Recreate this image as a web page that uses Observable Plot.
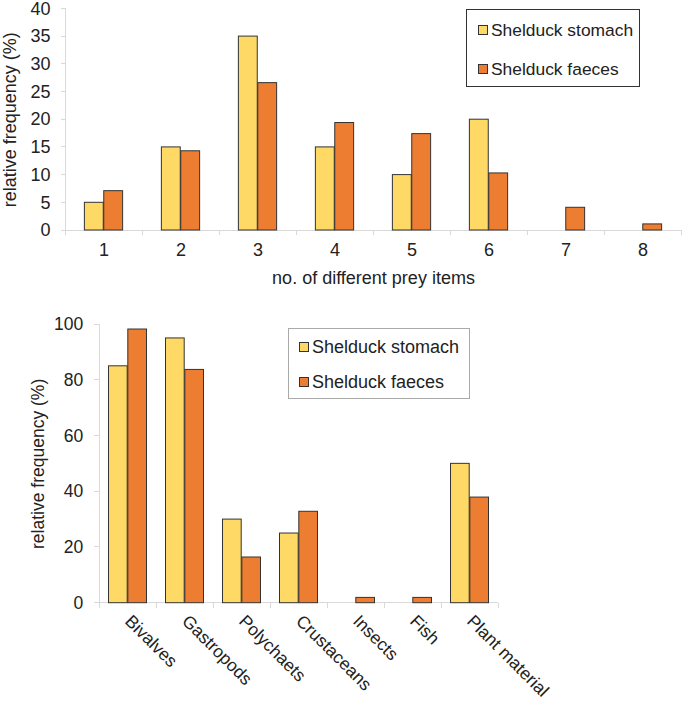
<!DOCTYPE html>
<html><head><meta charset="utf-8">
<script src="https://cdn.jsdelivr.net/npm/d3@7"></script>
<script src="https://cdn.jsdelivr.net/npm/@observablehq/plot@0.6"></script>
<style>
body{margin:0;background:#fff;font-family:"Liberation Sans",Arial,sans-serif;color:#222;}
#wrap{position:relative;width:685px;height:701px;overflow:hidden;}
.chart{position:absolute;left:0;}
.legend{position:absolute;background:#fff;box-sizing:border-box;}
.item{position:absolute;display:flex;align-items:center;white-space:nowrap;}
.sw{width:10px;height:10px;border:1px solid #333;box-sizing:border-box;margin-right:3px;flex:none;}
</style></head><body><div id="wrap"></div>
<script>
// ---- data ----
const series = ["Shelduck stomach", "Shelduck faeces"];
const seriesColors = ["#FFD966", "#ED7D31"];

const preyCounts = ["1", "2", "3", "4", "5", "6", "7", "8"];
const countStomach = [5, 15, 35, 15, 10, 20, 0, 0];
const countFaeces = [7.1, 14.3, 26.6, 19.4, 17.4, 10.3, 4.1, 1.1];
const countTicks = [0, 5, 10, 15, 20, 25, 30, 35, 40];

const preyTypes = ["Bivalves", "Gastropods", "Polychaets", "Crustaceans", "Insects", "Fish", "Plant material"];
const typeStomach = [85, 95, 30, 25, 0, 0, 50];
const typeFaeces = [98.2, 83.7, 16.4, 32.8, 1.9, 1.9, 37.9];
const typeTicks = [0, 20, 40, 60, 80, 100];

// ---- helpers ----
const AXIS_GRAY = "#d9d9d9";
const FONT = "'Liberation Sans', Arial, sans-serif";

function guides(cats, ticks, yTickLen, xTickLen) {
  return (index, scales) => {
    const x = scales.x, y = scales.y;
    const bw = typeof x.bandwidth === "function" ? x.bandwidth() : x.bandwidth;
    const bounds = cats.map(c => x(c));
    bounds.push(x(cats[cats.length - 1]) + bw);
    const x0 = bounds[0], x1 = bounds[bounds.length - 1];
    const yb = y(0), yt = y(ticks[ticks.length - 1]);
    const g = d3.create("svg:g").attr("stroke", AXIS_GRAY).attr("fill", "none").attr("shape-rendering", "crispEdges");
    g.append("line").attr("x1", x0).attr("x2", x0).attr("y1", yb).attr("y2", yt);
    g.append("line").attr("x1", x0).attr("x2", x1).attr("y1", yb).attr("y2", yb);
    for (const b of bounds) g.append("line").attr("x1", b).attr("x2", b).attr("y1", yb).attr("y2", yb + xTickLen);
    for (const t of ticks) g.append("line").attr("x1", x0 - yTickLen).attr("x2", x0).attr("y1", y(t)).attr("y2", y(t));
    return g.node();
  };
}

function groupedChart(o) {
  const n = o.cats.length;
  const bw = (o.width - o.ml - o.mr) / n;
  const outer = bw * (1 - o.groupFrac) / 2;
  const barW = bw * o.groupFrac / 2;
  const d1 = o.cats.map((c, i) => ({cat: c, value: o.s1[i]})).filter(d => d.value > 0);
  const d2 = o.cats.map((c, i) => ({cat: c, value: o.s2[i]})).filter(d => d.value > 0);
  return Plot.plot({
    width: o.width, height: o.height,
    marginLeft: o.ml, marginRight: o.mr, marginTop: o.mt, marginBottom: o.mb,
    style: {fontFamily: FONT, fontSize: o.fontSize + "px", background: "transparent", overflow: "visible", color: "#222"},
    x: {type: "band", domain: o.cats, padding: 0},
    y: {domain: [0, o.ticks[o.ticks.length - 1]]},
    marks: [
      guides(o.cats, o.ticks, o.yTickLen, 5),
      Plot.barY(d1, {x: "cat", y: "value", fill: seriesColors[0], stroke: "#333", strokeWidth: 1,
        insetLeft: outer, insetRight: outer + barW}),
      Plot.barY(d2, {x: "cat", y: "value", fill: seriesColors[1], stroke: "#333", strokeWidth: 1,
        insetLeft: outer + barW, insetRight: outer}),
      Plot.axisY({ticks: o.ticks, tickSize: 0, tickPadding: o.yPad, fill: "#222",
        label: o.yLabel, labelAnchor: "center", labelOffset: o.yLabelOffset, labelArrow: "none", fontSize: o.fontSize}),
      Plot.axisX({tickSize: 0, tickPadding: o.xPad, fill: "#222", tickRotate: o.rotate || 0,
        label: o.xLabel, labelAnchor: "center", labelOffset: o.xLabelOffset, labelArrow: "none", fontSize: o.fontSize})
    ]
  });
}

function legend(box) {
  const el = document.createElement("div");
  el.className = "legend";
  Object.assign(el.style, {left: box.left + "px", top: box.top + "px", width: box.width + "px",
    height: box.height + "px", border: "1px solid " + box.border, fontSize: box.fontSize + "px"});
  series.forEach((s, i) => {
    const it = document.createElement("div");
    it.className = "item";
    Object.assign(it.style, {left: box.swLeft + "px", top: (box.rows[i] - 12) + "px", height: "24px", lineHeight: "24px"});
    const sw = document.createElement("div");
    sw.className = "sw";
    sw.style.background = seriesColors[i];
    const tx = document.createElement("span");
    tx.textContent = s;
    it.append(sw, tx);
    el.append(it);
  });
  return el;
}

const wrap = document.getElementById("wrap");

const top1 = groupedChart({
  cats: preyCounts, s1: countStomach, s2: countFaeces, ticks: countTicks,
  width: 685, height: 295, ml: 63, mr: 2, mt: 8.4, mb: 65, groupFrac: 0.5,
  fontSize: 18, yTickLen: 4, yPad: 13, xPad: 13,
  yLabel: "relative frequency (%)", yLabelOffset: 60,
  xLabel: "no. of different prey items", xLabelOffset: 53
});
top1.classList.add("chart");
top1.style.top = "0px";
wrap.append(top1);

const bot = groupedChart({
  cats: preyTypes, s1: typeStomach, s2: typeFaeces, ticks: typeTicks,
  width: 685, height: 401, ml: 96.7, mr: 185, mt: 24, mb: 98.3, groupFrac: 0.67,
  fontSize: 17.5, yTickLen: 5, yPad: 14, xPad: 15, rotate: 45,
  yLabel: "relative frequency (%)", yLabelOffset: 66,
  xLabel: null, xLabelOffset: 0
});
bot.classList.add("chart");
bot.style.top = "300px";
wrap.append(bot);

wrap.append(legend({left: 466, top: 9, width: 174, height: 78, border: "#333", fontSize: 17.4, swLeft: 11, rows: [20, 58.7]}));
wrap.append(legend({left: 288, top: 328, width: 182, height: 71, border: "#aaa", fontSize: 18, swLeft: 10, rows: [18, 53]}));
</script></body></html>
